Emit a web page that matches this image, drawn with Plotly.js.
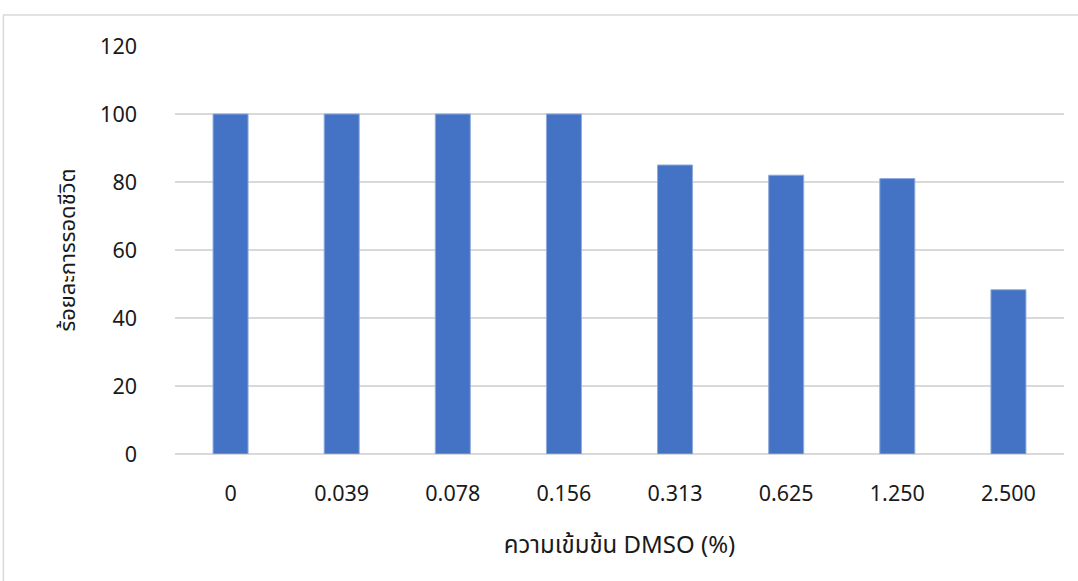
<!DOCTYPE html>
<html>
<head>
<meta charset="utf-8">
<script src="https://cdn.plot.ly/plotly-3.0.1.min.js"></script>
<style>html,body{margin:0;padding:0;background:#fff;}#chart{width:1078px;height:581px;}</style>
</head>
<body>
<div id="chart"></div>
<script>
const categories = ["0", "0.039", "0.078", "0.156", "0.313", "0.625", "1.250", "2.500"];
const survival = [100, 100, 100, 100, 85, 82, 81, 48.3];
const yTicks = [0, 20, 40, 60, 80, 100, 120];

const font = "Noto Sans, Noto Sans Thai, Open Sans, DejaVu Sans, sans-serif";
const trace = {
  type: "bar",
  x: categories,
  y: survival,
  marker: {color: "#4472c4", line: {color: "#8eaadb", width: 1}},
  hoverinfo: "x+y"
};
const layout = {
  width: 1078, height: 581,
  margin: {l: 175, r: 14, t: 46, b: 127},
  paper_bgcolor: "#fff", plot_bgcolor: "#fff",
  showlegend: false,
  bargap: 0.685,
  font: {family: font, color: "#1a1a1a", size: 21},
  xaxis: {
    type: "category",
    showgrid: false, zeroline: false,
    showline: false, ticks: "",
    ticklabelstandoff: 24,
    tickfont: {size: 21.5, family: font, color: "#1a1a1a"},
    title: {text: "ความเข้มข้น DMSO (%)", font: {size: 24, family: font, color: "#1a1a1a"}, standoff: 30}
  },
  yaxis: {
    range: [0, 120],
    tickvals: yTicks,
    showgrid: true, gridcolor: "#d9d9d9", gridwidth: 1.5,
    zeroline: true, zerolinecolor: "#d9d9d9", zerolinewidth: 1.5,
    showline: false, ticks: "",
    ticklabelstandoff: 37,
    tickfont: {size: 21.5, family: font, color: "#1a1a1a"},
    title: {text: "ร้อยละการรอดชีวิต", font: {size: 22, family: font, color: "#1a1a1a"}, standoff: 18}
  },
  shapes: [{
    type: "rect", xref: "paper", yref: "paper",
    x0: -0.193, x1: 1.03, y0: -0.4, y1: 1.076,
    line: {color: "#d9d9d9", width: 1.5}, fillcolor: "rgba(0,0,0,0)", layer: "below"
  }]
};
Plotly.newPlot("chart", [trace], layout, {displayModeBar: false, staticPlot: true});
</script>
</body>
</html>
